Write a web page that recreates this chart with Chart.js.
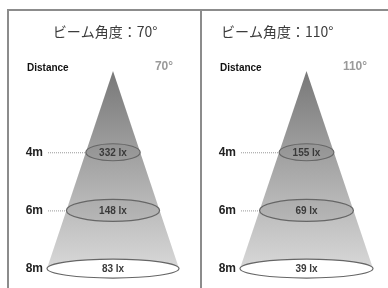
<!DOCTYPE html>
<html>
<head>
<meta charset="utf-8">
<script src="https://cdn.jsdelivr.net/npm/chart.js@4"></script>
<style>
  html, body { margin: 0; padding: 0; background: #fff; }
  #wrap { position: relative; width: 388px; height: 288px; overflow: hidden; }
  .line { position: absolute; background: #8c8c8c; }
  canvas { position: absolute; }
</style>
</head>
<body>
<div id="wrap">
  <div class="line" style="left:7px;top:9px;width:381px;height:2px"></div>
  <div class="line" style="left:7px;top:9px;width:2px;height:279px"></div>
  <div class="line" style="left:200px;top:9px;width:2px;height:279px"></div>
  <canvas id="left" width="191" height="277" style="left:9px;top:11px"></canvas>
  <canvas id="right" width="186" height="277" style="left:202px;top:11px"></canvas>
</div>
<script>
const distances = [4, 6, 8];
const tickLabels = ["4m", "6m", "8m"];
const luxNarrow = [332, 148, 83];
const luxWide = [155, 69, 39];
const beamAngles = [70, 110];
const titles = ["ビーム角度：70°", "ビーム角度：110°"];

// cone outline (apex distance, end distance, half width at the end)
const coneApex = 1.2;
const coneEnd = 8;
const coneHalf = 66;

const sans = "'Liberation Sans', Arial, sans-serif";

const halfWidthAt = (d) => coneHalf * (d - coneApex) / (coneEnd - coneApex);

const beamPlugin = {
  id: "beam",
  afterDatasetsDraw(chart, args, opts) {
    const { ctx, chartArea, scales } = chart;
    const x = scales.x, y = scales.y;
    ctx.save();
    distances.forEach((d, i) => {
      const cx = x.getPixelForValue(0);
      const cy = y.getPixelForValue(d);
      const rx = x.getPixelForValue(halfWidthAt(d)) - cx;
      const ry = opts.ry[i];
      // leader line
      const gap = cx - rx - chartArea.left;
      if (gap > 10) {
        ctx.strokeStyle = "#999";
        ctx.lineWidth = 1;
        ctx.setLineDash([1, 1]);
        ctx.beginPath();
        ctx.moveTo(chartArea.left + 1, cy + 0.5);
        ctx.lineTo(cx - rx - 1, cy + 0.5);
        ctx.stroke();
        ctx.setLineDash([]);
      }
      ctx.beginPath();
      ctx.ellipse(cx, cy, rx, ry, 0, 0, Math.PI * 2);
      ctx.fillStyle = i === distances.length - 1 ? "#ffffff" : "rgba(90,90,90,0.1)";
      ctx.fill();
      ctx.strokeStyle = "#666";
      ctx.lineWidth = 1.2;
      ctx.stroke();
      ctx.fillStyle = "#3a3a3a";
      ctx.font = "bold 10px " + sans;
      ctx.textAlign = "center";
      ctx.textBaseline = "middle";
      ctx.fillText(opts.lux[i] + " lx", cx, cy + 1);
    });
    // titles and headings
    ctx.font = "14px 'Noto Sans CJK JP', sans-serif";
    ctx.fillStyle = "#3c3c3c";
    ctx.textAlign = opts.titleAlign;
    ctx.textBaseline = "middle";
    ctx.fillText(opts.title, opts.titleX, 21);
    ctx.font = "bold 10px " + sans;
    ctx.fillStyle = "#111";
    ctx.textAlign = "left";
    ctx.fillText("Distance", 18, 57);
    ctx.font = "bold 12px " + sans;
    ctx.fillStyle = "#9a9a9a";
    ctx.textAlign = "center";
    ctx.fillText(opts.angle + "°", opts.angleX, 56);
    ctx.restore();
  },
};

function makePanel(id, idx, lux, padRight, titleAlign, titleX, angleX) {
  return new Chart(document.getElementById(id).getContext("2d"), {
    type: "line",
    data: {
      datasets: [
        {
          label: "beam",
          data: [
            { x: -coneHalf, y: coneEnd },
            { x: 0, y: coneApex },
            { x: coneHalf, y: coneEnd },
          ],
          fill: "shape",
          borderWidth: 0,
          pointRadius: 0,
          tension: 0,
          clip: false,
          backgroundColor: (c) => {
            const { ctx, chartArea, scales } = c.chart;
            if (!chartArea) return "#aaa";
            const g = ctx.createLinearGradient(0, scales.y.getPixelForValue(coneApex), 0, scales.y.getPixelForValue(coneEnd));
            g.addColorStop(0, "#787878");
            g.addColorStop(1, "#d8d8d8");
            return g;
          },
        },
      ],
    },
    options: {
      responsive: false,
      animation: false,
      events: [],
      layout: { padding: { top: 25, bottom: 0, left: 0, right: padRight } },
      scales: {
        x: { type: "linear", min: -coneHalf, max: coneHalf, display: false },
        y: {
          type: "linear",
          reverse: true,
          min: 0,
          max: 8.67,
          grid: { display: false, drawTicks: false },
          border: { display: false },
          afterBuildTicks: (s) => { s.ticks = distances.map((v) => ({ value: v })); },
          afterFit: (s) => { s.width = 38; s.paddingTop = 0; s.paddingBottom = 0; },
          ticks: {
            padding: 4,
            color: "#222",
            font: { family: sans, size: 12, weight: "bold" },
            callback: (v) => tickLabels[distances.indexOf(v)],
          },
        },
      },
      plugins: {
        legend: { display: false },
        tooltip: { enabled: false },
        beam: {
          ry: [8.5, 11, 9.5],
          lux: lux,
          title: titles[idx],
          angle: beamAngles[idx],
          titleAlign: titleAlign,
          titleX: titleX,
          angleX: angleX,
        },
      },
    },
    plugins: [beamPlugin],
  });
}

makePanel("left", 0, luxNarrow, 21, "center", 96, 155);
makePanel("right", 1, luxWide, 15, "left", 19, 153);
</script>
</body>
</html>
